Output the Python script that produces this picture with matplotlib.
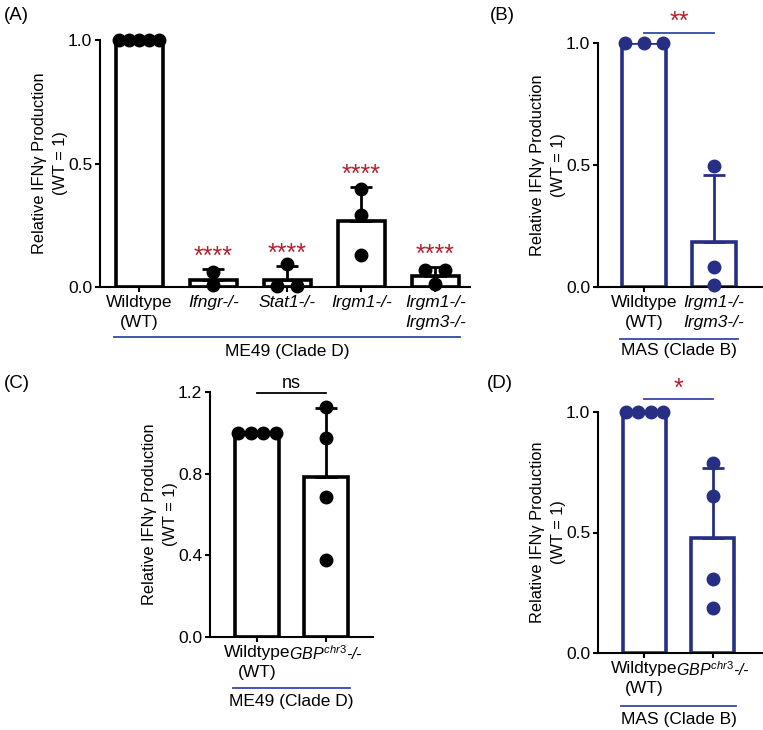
import matplotlib
matplotlib.use('Agg')
import matplotlib.pyplot as plt
import numpy as np

plt.rcParams['font.family'] = ['Liberation Sans', 'DejaVu Sans']
plt.rcParams['mathtext.fontset'] = 'custom'
plt.rcParams['mathtext.rm'] = 'Liberation Sans'
plt.rcParams['mathtext.it'] = 'Liberation Sans:italic'

# ---- data ----
a_labels = ['Wildtype\n(WT)', 'Ifngr-/-', 'Stat1-/-', 'Irgm1-/-', 'Irgm1-/-\nIrgm3-/-']
a_means = [1.0, 0.030, 0.027, 0.266, 0.043]
a_sd = [0.0, 0.044, 0.057, 0.138, 0.038]
a_points = [[1, 1, 1, 1, 1], [0.061, 0.007], [0.095, 0.004, 0.004],
            [0.395, 0.291, 0.131], [0.070, 0.070, 0.0135]]
a_stars = ['', '****', '****', '****', '****']

b_labels = ['Wildtype\n(WT)', 'Irgm1-/-\nIrgm3-/-']
b_means = [1.0, 0.184]
b_sd = [0.0, 0.274]
b_points = [[1, 1, 1], [0.497, 0.081, 0.007]]

c_labels = ['Wildtype\n(WT)', '$GBP^{chr3}$-/-']
c_means = [1.0, 0.782]
c_sd = [0.0, 0.338]
c_points = [[1, 1, 1, 1], [1.128, 0.973, 0.684, 0.377]]

d_labels = ['Wildtype\n(WT)', '$GBP^{chr3}$-/-']
d_means = [1.0, 0.477]
d_sd = [0.0, 0.289]
d_points = [[1, 1, 1, 1], [0.787, 0.651, 0.308, 0.185]]

BLACK = 'black'
NAVY = '#272f85'
LINEBLUE = '#3548a8'
RED = '#b3202e'
W = 763
H = 730
BW = 0.63


def px_axes(fig, left, right, top, bottom):
    return fig.add_axes([left / W, 1 - bottom / H, (right - left) / W, (bottom - top) / H])


def spread(vals, width):
    # simple swarm: points with (nearly) equal values are spread sideways
    vals = np.asarray(vals, dtype=float)
    offs = np.zeros(len(vals))
    used = np.zeros(len(vals), dtype=bool)
    for i in range(len(vals)):
        if used[i]:
            continue
        idx = [j for j in range(len(vals)) if not used[j] and abs(vals[j] - vals[i]) < 0.03]
        n = len(idx)
        half = min(0.43, 0.22 * (n - 1)) * width
        for k, j in zip(np.linspace(-half, half, n), idx):
            offs[j] = k
            used[j] = True
    return offs


def bar_panel(ax, labels, means, sd, points, color, ylim, yticks, yfmt):
    x = np.arange(len(labels))
    ax.bar(x, means, width=BW, color='white', edgecolor=color, linewidth=2.6, zorder=2)
    for i in range(len(labels)):
        if sd[i] > 0:
            ax.errorbar(x[i], means[i], yerr=[[0], [sd[i]]], color=color, elinewidth=2,
                        capsize=8, capthick=2, zorder=3)
        offs = spread(points[i], BW)
        ax.plot(x[i] + offs, points[i], 'o', color=color, ms=9, clip_on=False, zorder=4)
    ax.set_ylim(*ylim)
    ax.set_yticks(yticks)
    ax.set_yticklabels([yfmt % t for t in yticks])
    ax.set_xticks(x)
    ax.set_xticklabels(labels, linespacing=1.45)
    for lab in ax.get_xticklabels()[1:]:
        lab.set_fontstyle('italic')
    for s in ['top', 'right']:
        ax.spines[s].set_visible(False)
    for s in ['left', 'bottom']:
        ax.spines[s].set_linewidth(1.5)
    ax.tick_params(axis='both', labelsize=12.5, width=1.5, length=3.6, pad=2)
    ax.set_ylabel('Relative IFNγ Production\n(WT = 1)', fontsize=11.8, labelpad=0,
                  linespacing=1.5)


def group_line(ax, n, ytext, yline, text):
    tr = ax.get_xaxis_transform()
    ax.plot([-0.34, n - 1 + 0.34], [yline, yline], color=LINEBLUE, lw=1.3,
            transform=tr, clip_on=False)
    ax.text((n - 1) / 2, ytext, text, transform=tr, ha='center', va='center', fontsize=12.5)


def bracket(ax, y, ytext, text, tcolor):
    ax.plot([0, 1], [y, y], color=LINEBLUE if tcolor == RED else 'black', lw=1.3, clip_on=False)
    ax.text(0.5, ytext, text, ha='center', va='center', color=tcolor,
            fontsize=18 if tcolor == RED else 13, clip_on=False)


fig = plt.figure(figsize=(W / 100, H / 100), dpi=100)

# (A)
axA = px_axes(fig, 100, 470, 40, 287)
bar_panel(axA, a_labels, a_means, a_sd, a_points, BLACK, (0, 1.0), [0, 0.5, 1.0], '%.1f')
axA.set_xlim(-0.53, 4.47)
for i, st in enumerate(a_stars):
    if st:
        axA.text(i, a_means[i] + a_sd[i] + 0.05, st, ha='center', va='center',
                 color=RED, fontsize=18)
group_line(axA, len(a_labels), -0.263, -0.202, 'ME49 (Clade D)')

# (B)
axB = px_axes(fig, 598, 762, 43, 287)
bar_panel(axB, b_labels, b_means, b_sd, b_points, NAVY, (0, 1.0), [0, 0.5, 1.0], '%.1f')
axB.set_xlim(-0.66, 1.69)
bracket(axB, 1.04, 1.085, '**', RED)
group_line(axB, 2, -0.262, -0.213, 'MAS (Clade B)')

# (C)
axC = px_axes(fig, 210, 373, 392, 637)
bar_panel(axC, c_labels, c_means, c_sd, c_points, BLACK, (0, 1.2), [0, 0.4, 0.8, 1.2], '%.1f')
axC.set_xlim(-0.68, 1.68)
bracket(axC, 1.195, 1.24, 'ns', 'black')
group_line(axC, 2, -0.265, -0.208, 'ME49 (Clade D)')

# (D)
axD = px_axes(fig, 598, 762, 412, 653)
bar_panel(axD, d_labels, d_means, d_sd, d_points, NAVY, (0, 1.0), [0, 0.5, 1.0], '%.1f')
axD.set_xlim(-0.68, 1.72)
bracket(axD, 1.054, 1.095, '*', RED)
group_line(axD, 2, -0.274, -0.22, 'MAS (Clade B)')

for ax in [axC, axD]:
    ax.get_xticklabels()[1].set_fontsize(11.5)

# panel letters
for lbl, xx, yy in [('(A)', 4, 15), ('(B)', 490, 15), ('(C)', 4, 383), ('(D)', 487, 383)]:
    fig.text(xx / W, 1 - yy / H, lbl, fontsize=13.5, ha='left', va='center')

fig.savefig('out.png', dpi=100)
